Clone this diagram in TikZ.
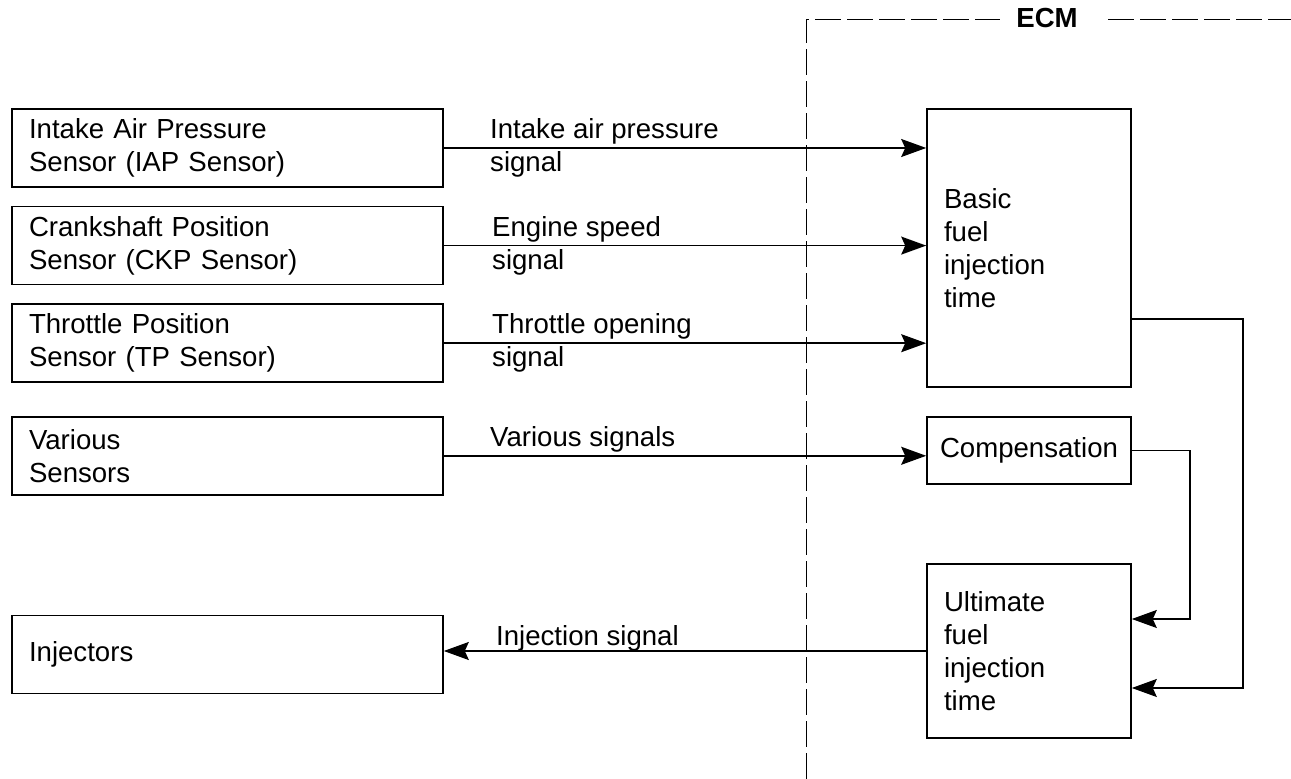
\documentclass[tikz,border=0pt]{standalone}
\usepackage{fontspec}
\setmainfont{Liberation Sans}
\usetikzlibrary{arrows.meta, positioning, calc}

\begin{document}
\begin{tikzpicture}[
        x=0.5pt, y=-0.5pt,
        node distance=9pt,
        txt/.style={font=\fontsize{13.8pt}{16.5pt}\selectfont},
        box/.style={rectangle, draw, line width=0.8pt, minimum height=39pt, text width=198.5pt, inner xsep=8.5pt, align=left, txt},
        ecmbase/.style={rectangle, draw, line width=0.8pt, inner xsep=8.5pt, txt},
        ecmbox/.style={ecmbase, text width=85pt, align=left},
        siglabel/.style={inner sep=0pt, align=left, txt},
        arrow/.style={-{Stealth[length=12.5pt, width=9pt, inset=2pt]}, line width=0.75pt},
        border/.style={dash pattern=on 13pt off 3pt, line width=0.5pt}
    ]
    \useasboundingbox (0,0) rectangle (1291,779);

    \node (iap) [box] at (227.5,148) {Intake Air Pressure\\Sensor (IAP Sensor)};
    \node (ckp) [box, below=of iap] {Crankshaft Position\\Sensor (CKP Sensor)};
    \node (tps) [box, below=of ckp] {Throttle Position\\Sensor (TP Sensor)};
    \node (various) [box, below=16.5pt of tps] {Various\\Sensors};
    \node (injectors) [box, below=59.5pt of various] {Injectors};

    \node (basic) [ecmbox, minimum height=139pt] at (1029,248) {Basic\\fuel\\injection\\time};
    \node (comp) [ecmbase, inner xsep=4pt, minimum width=102pt, minimum height=33.5pt] at (1029,450.5) {Compensation};
    \node (ultimate) [ecmbox, minimum height=87pt] at (1029,651) {Ultimate\\fuel\\injection\\time};

    \node (ecm) [inner sep=0pt, font=\bfseries\fontsize{13.8pt}{16.5pt}\selectfont] at (1047,18) {ECM};
    \coordinate (corner) at (806,20);
    \coordinate (bottomend) at (806,779);
    \coordinate (rightend) at (1291,20);

    \draw[border] (bottomend) -- (corner) -- ([xshift=-8pt]corner -| ecm.west);
    \draw[border] ([xshift=15pt]corner -| ecm.east) -- (rightend);

    \node (iaplabel) [siglabel, right=23pt of iap.east] {Intake air pressure\\signal};
    \node (ckplabel) [siglabel, right=24pt of ckp.east] {Engine speed\\signal};
    \node (tpslabel) [siglabel, right=24pt of tps.east] {Throttle opening\\signal};
    \node (varlabel) [siglabel, above right=1.5pt and 23pt of various.east] {Various signals};
    \node (injlabel) [siglabel, above right=1.5pt and 26pt of injectors.east] {Injection signal};

    \draw[arrow] (iap.east) -- (iap.east -| basic.west);
    \draw[arrow] (ckp.east) -- (ckp.east -| basic.west);
    \draw[arrow] (tps.east) -- (tps.east -| basic.west);
    \draw[arrow] (various.east) -- (various.east -| comp.west);
    \draw[arrow] (ultimate.west) -- (ultimate.west -| injectors.east);
    \draw[arrow] ([yshift=-35.5pt]basic.east) -- ++(55.5pt,0) |- ([yshift=-18.5pt]ultimate.east);
    \draw[arrow] (comp.east) -- ++(29pt,0) |- ([yshift=16pt]ultimate.east);

\end{tikzpicture}
\end{document}
